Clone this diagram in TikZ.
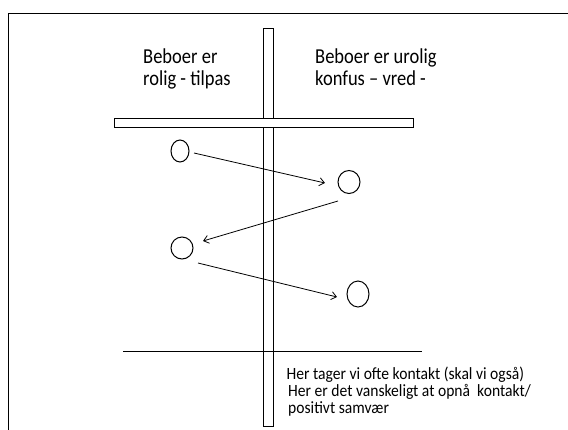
\documentclass[tikz,border=0pt]{standalone}
\usepackage{fontspec}
\setmainfont{Carlito}
\usetikzlibrary{arrows.meta,shapes.geometric}
\begin{document}
\begin{tikzpicture}[x=1pt,y=-1pt,
  bar/.style={draw=black,fill=white,line width=0.9pt},
  dot/.style={draw=black,line width=1pt,ellipse,inner sep=0pt},
  arr/.style={draw=black,line width=0.8pt,-{Straight Barb[length=5pt,width=8pt]}},
  big/.style={font=\fontsize{18.5}{21}\selectfont,anchor=base west,inner sep=0pt,align=left,yscale=1.15,transform shape},
  small/.style={font=\fontsize{15.6}{17}\selectfont,anchor=base west,inner sep=0pt,yscale=1.1,transform shape}]
\useasboundingbox (0,0) rectangle (568,429);
\fill[white] (0,0) rectangle (568,429);
\draw[line width=1.8pt] (8.5,13.5) rectangle (580,440);
% vertical bar
\draw[bar] (263,28) rectangle (273,426);
% horizontal bar
\draw[bar] (114,118) rectangle (413,127);
\fill[white] (263.5,118.5) rectangle (272.5,126.5);
\draw[line width=0.9pt] (263,127) -- (273,127);
\draw[line width=0.9pt] (263,118) -- (273,118);
% lower line
\draw[line width=0.8pt] (123,351) -- (422,351);
% circles
\node[dot,minimum width=18pt,minimum height=22pt] (c1) at (180,151) {};
\node[dot,minimum width=22pt,minimum height=23pt] (c2) at (349,182) {};
\node[dot,minimum width=22pt,minimum height=22pt] (c3) at (182,248) {};
\node[dot,minimum width=22pt,minimum height=26pt] (c4) at (358,294) {};
\coordinate (a1s) at (194,153); \coordinate (a1e) at (325,183);
\coordinate (a2s) at (338,201); \coordinate (a2e) at (203,241);
\coordinate (a3s) at (198,263); \coordinate (a3e) at (337,297);
\draw[arr] (a1s) -- (a1e);
\draw[arr] (a2s) -- (a2e);
\draw[arr] (a3s) -- (a3e);
% texts
\node[big] (t1) at (143,63) {Beboer er};
\node[big] (t2) at (143,85) {rolig - tilpas};
\node[big] (t3) at (315,63) {Beboer er urolig};
\node[big] (t4) at (315,85) {konfus – vred -};
\node[small] (b1) at (286.5,379) {Her tager vi ofte kontakt (skal vi også)};
\node[small] (b2) at (288,396) {Her er det vanskeligt at opnå\ \ kontakt/};
\node[small] (b3) at (288,413) {positivt samvær};
\end{tikzpicture}
\end{document}
